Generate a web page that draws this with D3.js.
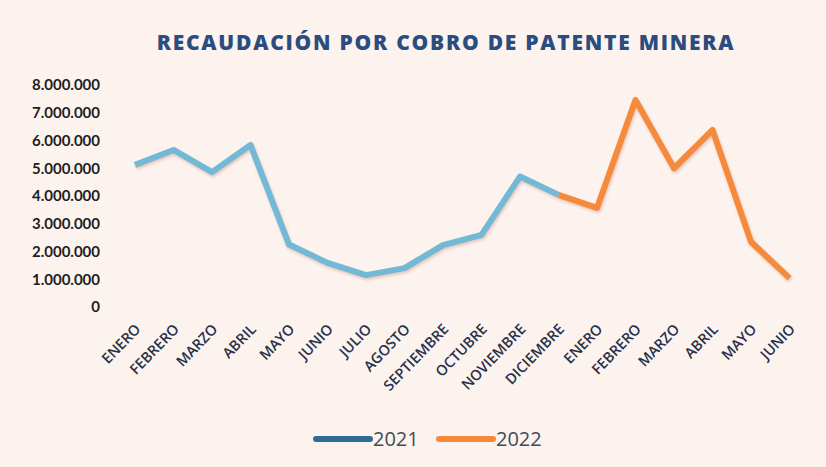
<!DOCTYPE html>
<html>
<head>
<meta charset="utf-8">
<script src="https://cdn.jsdelivr.net/npm/d3@7"></script>
<style>
  body { margin: 0; background: #fdf3ee; }
  svg { display: block; }
</style>
</head>
<body>
<svg id="chart"></svg>
<script>
// data
const months = ["ENERO", "FEBRERO", "MARZO", "ABRIL", "MAYO", "JUNIO", "JULIO", "AGOSTO", "SEPTIEMBRE",
    "OCTUBRE", "NOVIEMBRE", "DICIEMBRE", "ENERO", "FEBRERO", "MARZO", "ABRIL", "MAYO", "JUNIO"];
const values2021 = [5120000, 5660000, 4860000, 5840000, 2250000, 1590000, 1150000, 1400000, 2230000,
    2600000, 4700000, 4040000];
const values2022 = [3570000, 7460000, 5000000, 6380000, 2350000, 1040000];
const yTicks = [0, 1000000, 2000000, 3000000, 4000000, 5000000, 6000000, 7000000, 8000000];
const seriesNames = ["2021", "2022"];

// sizes
const width = 826, height = 467;
const color2021 = "#72b9d6";
const color2021Legend = "#2d6c94";
const color2022 = "#f58a3c";

const svg = d3.select("#chart").attr("width", width).attr("height", height);

const defs = svg.append("defs");
const shadow = defs.append("filter").attr("id", "shadow")
    .attr("x", "-10%").attr("y", "-10%").attr("width", "120%").attr("height", "130%");
shadow.append("feDropShadow")
    .attr("dx", 1).attr("dy", 2).attr("stdDeviation", 1.6)
    .attr("flood-color", "#c98a7a").attr("flood-opacity", 0.45);

svg.append("rect").attr("width", width).attr("height", height).attr("fill", "#fdf3ee");

// title
svg.append("text")
    .attr("x", 446).attr("y", 50)
    .attr("text-anchor", "middle")
    .attr("font-family", "'Open Sans', sans-serif")
    .attr("font-weight", 800)
    .attr("font-size", 21)
    .attr("letter-spacing", 1.75)
    .attr("fill", "#2b4c7e")
    .text("RECAUDACIÓN POR COBRO DE PATENTE MINERA");

// scales
const x = d3.scalePoint().domain(d3.range(months.length)).range([135, 789.5]);
const y = d3.scaleLinear().domain([0, 8000000]).range([307, 85]);

const fmt = v => v === 0 ? "0" : d3.format(",")(v).replace(/,/g, ".");

// y axis
const yAxis = d3.axisLeft(y).tickValues(yTicks).tickFormat(fmt).tickSize(0).tickPadding(0);
const yG = svg.append("g").attr("transform", "translate(100,0)").call(yAxis);
yG.select(".domain").remove();
yG.selectAll("text")
    .attr("font-family", "Lato, 'Open Sans', sans-serif")
    .attr("font-weight", 700)
    .attr("font-size", 15)
    .attr("fill", "#1e1e1e");

// x axis
const xAxis = d3.axisBottom(x).tickFormat(i => months[i]).tickSize(0).tickPadding(0);
const xG = svg.append("g").attr("transform", "translate(0,330)").call(xAxis);
xG.select(".domain").remove();
xG.selectAll("text")
    .attr("font-family", "'Open Sans', sans-serif")
    .attr("font-weight", 600)
    .attr("font-size", 14.5)
    .attr("fill", "#27314b")
    .attr("text-anchor", "end")
    .attr("dy", "0")
    .attr("transform", "translate(6,0) rotate(-46)");

// lines
const line = d3.line().x(d => x(d[0])).y(d => y(d[1]));
const data2021 = values2021.map((v, i) => [i, v]);
const data2022 = [[values2021.length - 1, values2021[values2021.length - 1]]]
    .concat(values2022.map((v, i) => [values2021.length + i, v]));

svg.append("path")
    .datum(data2021)
    .attr("d", line)
    .attr("fill", "none")
    .attr("stroke", color2021)
    .attr("stroke-width", 6)
    .attr("stroke-linejoin", "round")
    .attr("filter", "url(#shadow)");
svg.append("path")
    .datum(data2022)
    .attr("d", line)
    .attr("fill", "none")
    .attr("stroke", color2022)
    .attr("stroke-width", 6)
    .attr("stroke-linejoin", "round")
    .attr("filter", "url(#shadow)");

// legend
const legend = svg.append("g");
const legendItems = [
    { name: seriesNames[0], color: color2021Legend, x: 316 },
    { name: seriesNames[1], color: color2022, x: 439 }
];
legendItems.forEach(d => {
    legend.append("line")
        .attr("x1", d.x).attr("x2", d.x + 54)
        .attr("y1", 439).attr("y2", 439)
        .attr("stroke", d.color)
        .attr("stroke-width", 6)
        .attr("stroke-linecap", "round");
    legend.append("text")
        .attr("x", d.x + 57).attr("y", 446)
        .attr("font-family", "'Open Sans', sans-serif")
        .attr("font-size", 20)
        .attr("fill", "#414b57")
        .text(d.name);
});
</script>
</body>
</html>
